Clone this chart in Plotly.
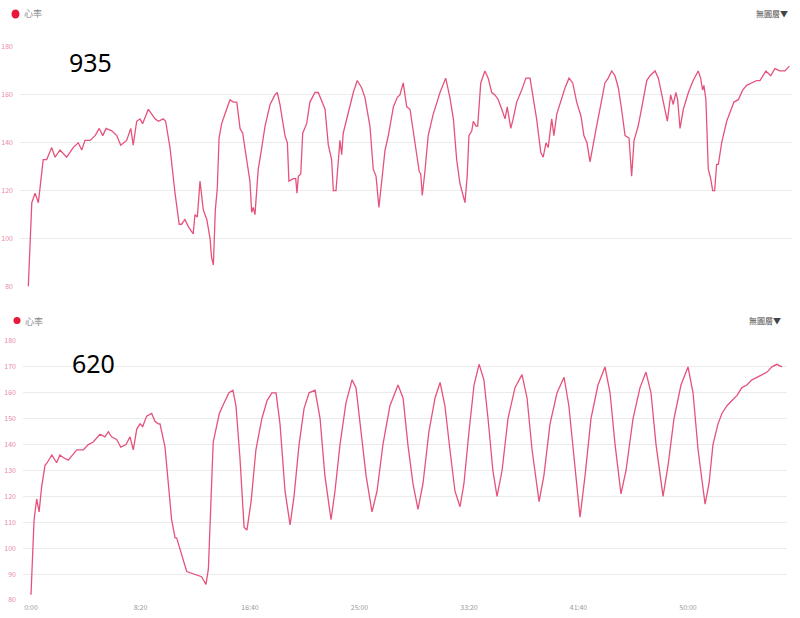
import plotly.graph_objects as go

# ---------------- data ----------------
# top chart ("935"): elapsed seconds and heart rate (bpm)
top_t = [0, 16, 31, 46, 68, 84, 107, 122, 145, 175, 205, 228, 244, 259, 282, 305, 324, 340, 355, 381,
         404, 422, 449, 468, 479, 495, 510, 522, 548, 579, 594, 616, 627, 647, 670, 689, 700, 715, 731, 753,
         761, 772, 784, 799, 815, 830, 837, 845, 854, 863, 871, 883, 898, 921, 936, 952, 967, 979, 997, 1012,
         1020, 1027, 1035, 1050, 1066, 1081, 1104, 1126, 1137, 1149, 1172, 1183, 1190, 1210, 1221, 1227, 1233, 1244, 1253, 1271,
         1286, 1309, 1324, 1340, 1355, 1370, 1385, 1393, 1405, 1423, 1431, 1438, 1461, 1484, 1502, 1522, 1537, 1560, 1575, 1588,
         1601, 1614, 1629, 1644, 1667, 1685, 1697, 1712, 1728, 1743, 1758, 1773, 1785, 1792, 1799, 1811, 1826, 1849, 1880, 1906,
         1925, 1941, 1956, 1971, 1986, 1994, 2004, 2012, 2025, 2032, 2044, 2052, 2066, 2085, 2100, 2116, 2131, 2146, 2162, 2177,
         2187, 2203, 2214, 2230, 2253, 2272, 2291, 2309, 2321, 2340, 2351, 2364, 2374, 2390, 2400, 2413, 2436, 2451, 2469, 2486,
         2504, 2524, 2537, 2551, 2565, 2580, 2595, 2610, 2633, 2648, 2664, 2679, 2694, 2709, 2725, 2743, 2755, 2766, 2785, 2808,
         2824, 2839, 2862, 2877, 2899, 2918, 2933, 2945, 2957, 2965, 2976, 2991, 3014, 3036, 3059, 3070, 3079, 3085, 3094, 3105,
         3116, 3125, 3134, 3143, 3151, 3166, 3189, 3204, 3222, 3242, 3262, 3280, 3303, 3326, 3341, 3368, 3390, 3409, 3432, 3455,
         3475]
top_hr = [80, 115, 119, 115, 133, 133, 138, 134, 137, 134, 138, 140, 137, 141, 141, 143, 146, 143, 146, 145,
          143, 139, 141, 146, 139, 149, 150, 148, 154, 150, 149, 150, 149, 138, 119, 106, 106, 108, 105, 102,
          110, 109, 124, 112, 108, 100, 92, 89, 112, 121, 142, 148, 152, 158, 157, 157, 146, 144, 133, 124,
          111, 113, 110, 129, 138, 147, 156, 160, 161, 156, 143, 140, 124, 125, 125, 119, 126, 127, 144, 148,
          157, 161, 161, 157, 154, 139, 133, 120, 120, 141, 135, 144, 152, 161, 166, 163, 159, 147, 129, 126,
          113, 125, 137, 143, 155, 159, 160, 165, 155, 154, 145, 136, 128, 127, 118, 128, 143, 152, 161, 167,
          159, 150, 133, 123, 117, 115, 126, 143, 145, 149, 147, 147, 165, 170, 167, 161, 160, 158, 154, 150,
          155, 146, 150, 157, 162, 167, 167, 156, 150, 136, 134, 140, 138, 150, 143, 152, 159, 163, 167, 165,
          157, 151, 143, 140, 132, 140, 147, 154, 165, 167, 170, 168, 163, 154, 143, 142, 126, 141, 147, 158,
          166, 168, 170, 167, 158, 149, 160, 156, 161, 158, 146, 154, 161, 166, 170, 167, 162, 164, 158, 129,
          125, 120, 120, 131, 131, 140, 149, 153, 157, 158, 162, 164, 165, 166, 166, 170, 168, 171, 170, 170,
          172]

# bottom chart ("620")
bot_t = [0, 14, 26, 37, 49, 64, 74, 95, 117, 132, 147, 170, 190, 209, 239, 262, 284, 315, 338, 353,
         368, 391, 410, 434, 452, 467, 483, 498, 510, 528, 551, 566, 581, 589, 612, 642, 658, 665, 711, 741,
         779, 799, 810, 832, 860, 881, 904, 922, 936, 954, 973, 986, 1005, 1027, 1054, 1078, 1100, 1119, 1137, 1160,
         1183, 1201, 1224, 1247, 1270, 1297, 1320, 1342, 1370, 1388, 1411, 1438, 1466, 1484, 1507, 1530, 1557, 1580, 1607, 1639,
         1676, 1699, 1721, 1744, 1767, 1790, 1817, 1845, 1868, 1890, 1913, 1936, 1959, 1977, 2000, 2023, 2046, 2068, 2087, 2109,
         2128, 2151, 2178, 2210, 2242, 2265, 2288, 2320, 2342, 2370, 2402, 2434, 2456, 2479, 2507, 2530, 2557, 2589, 2621, 2644,
         2667, 2694, 2717, 2749, 2781, 2808, 2831, 2854, 2886, 2909, 2936, 2968, 3000, 3023, 3046, 3078, 3096, 3114, 3137, 3155,
         3178, 3201, 3224, 3246, 3269, 3292, 3315, 3338, 3361, 3383, 3406, 3429]
bot_hr = [82, 111, 119, 114, 124, 132, 133, 136, 133, 136, 135, 134, 136, 138, 138, 140, 141, 144, 143, 145,
          143, 142, 139, 140, 143, 138, 146, 148, 147, 151, 152, 149, 148, 148, 139, 111, 104, 104, 91, 90,
          89, 86, 92, 141, 152, 156, 160, 161, 155, 135, 108, 107, 118, 138, 150, 157, 160, 160, 148, 122,
          109, 120, 140, 154, 160, 161, 150, 128, 111, 122, 140, 156, 165, 162, 145, 128, 114, 122, 140, 155,
          163, 158, 140, 125, 115, 125, 145, 158, 164, 155, 138, 122, 116, 125, 145, 163, 171, 165, 150, 130,
          120, 130, 150, 162, 167, 158, 138, 118, 128, 148, 160, 166, 155, 135, 112, 128, 150, 163, 170, 160,
          140, 121, 130, 150, 162, 168, 160, 140, 120, 132, 150, 163, 170, 160, 138, 117, 125, 140, 148, 152,
          155, 157, 159, 162, 163, 165, 166, 167, 168, 170, 171, 170]

x_tick_vals = [0, 500, 1000, 1500, 2000, 2500, 3000]
x_tick_text = ["0:00", "8:20", "16:40", "25:00", "33:20", "41:40", "50:00"]
top_y_ticks = [80, 100, 120, 140, 160, 180]
bot_y_ticks = [80, 90, 100, 110, 120, 130, 140, 150, 160, 170, 180]
top_title = "935"
bot_title = "620"
legend_name = "心率"
layer_text = "無圖層▼"

# ---------------- styling ----------------
W, H = 800, 618
LINE = "#e6527b"
GRID = "#ebebeb"
YTICK = "#e88aa4"
XTICK = "#9a9a9a"
FONT = "Noto Sans CJK TC, Noto Sans, sans-serif"


def px(x):
    return x / W


def py(y):
    return 1 - y / H


fig = go.Figure()
fig.add_trace(go.Scatter(x=top_t, y=top_hr, mode="lines", xaxis="x", yaxis="y",
                         line=dict(color=LINE, width=1.3), showlegend=False, hoverinfo="skip"))
fig.add_trace(go.Scatter(x=bot_t, y=bot_hr, mode="lines", xaxis="x2", yaxis="y2",
                         line=dict(color=LINE, width=1.3), showlegend=False, hoverinfo="skip"))

spx = 500 / 109.5  # seconds per pixel

fig.update_layout(
    width=W, height=H,
    margin=dict(l=0, r=0, t=0, b=0),
    paper_bgcolor="white", plot_bgcolor="white",
    font=dict(family=FONT),
    xaxis=dict(domain=[px(20), px(792)], range=[(20 - 28.3) * spx, (792 - 28.3) * spx],
               showgrid=False, zeroline=False, showticklabels=False, showline=False,
               anchor="y", automargin=False),
    yaxis=dict(domain=[py(286.5), py(47)], range=[80, 180], tickvals=top_y_ticks,
               showgrid=True, gridcolor=GRID, gridwidth=1, zeroline=False, showline=False,
               tickfont=dict(size=7, color=YTICK), ticklabelstandoff=6,
               anchor="x", automargin=False),
    xaxis2=dict(domain=[px(23), px(787)], range=[(23 - 31) * spx, (787 - 31) * spx],
                tickvals=x_tick_vals, ticktext=x_tick_text,
                showgrid=False, zeroline=False, showline=False,
                tickfont=dict(size=7, color=XTICK), ticklabelstandoff=2,
                anchor="y2", automargin=False),
    yaxis2=dict(domain=[py(600), py(341)], range=[80, 180], tickvals=bot_y_ticks,
                showgrid=True, gridcolor=GRID, gridwidth=1, zeroline=False, showline=False,
                tickfont=dict(size=7, color=YTICK), ticklabelstandoff=6,
                anchor="x2", automargin=False),
)

annotations = [
    dict(text=top_title, x=px(90), y=py(62), font=dict(size=25, color="black", family="Noto Sans")),
    dict(text=bot_title, x=px(93), y=py(363), font=dict(size=25, color="black", family="Noto Sans")),
    dict(text=legend_name, x=px(22), y=py(14), xanchor="left", font=dict(size=9, color="#8a8a8a")),
    dict(text=legend_name, x=px(23), y=py(321), xanchor="left", font=dict(size=9, color="#8a8a8a")),
    dict(text=layer_text, x=px(790), y=py(13.5), xanchor="right", font=dict(size=8, color="#444")),
    dict(text=layer_text, x=px(783), y=py(320), xanchor="right", font=dict(size=8, color="#444")),
]
for a in annotations:
    a.update(xref="paper", yref="paper", showarrow=False, yanchor="middle")
    a.setdefault("xanchor", "center")
fig.update_layout(annotations=annotations)

fig.add_shape(type="circle", xref="paper", yref="paper",
              x0=px(11.5), x1=px(19.5), y0=py(18.5), y1=py(9.5),
              fillcolor="#e8173c", line=dict(width=0))
fig.add_shape(type="circle", xref="paper", yref="paper",
              x0=px(13.5), x1=px(20.5), y0=py(324), y1=py(317),
              fillcolor="#e8173c", line=dict(width=0))

# remove the default page margin so the 800x618 figure fills the window exactly
fig.write_html("out.html",
               config={"displayModeBar": False},
               post_script="document.body.style.margin='0';document.body.style.overflow='hidden';")
